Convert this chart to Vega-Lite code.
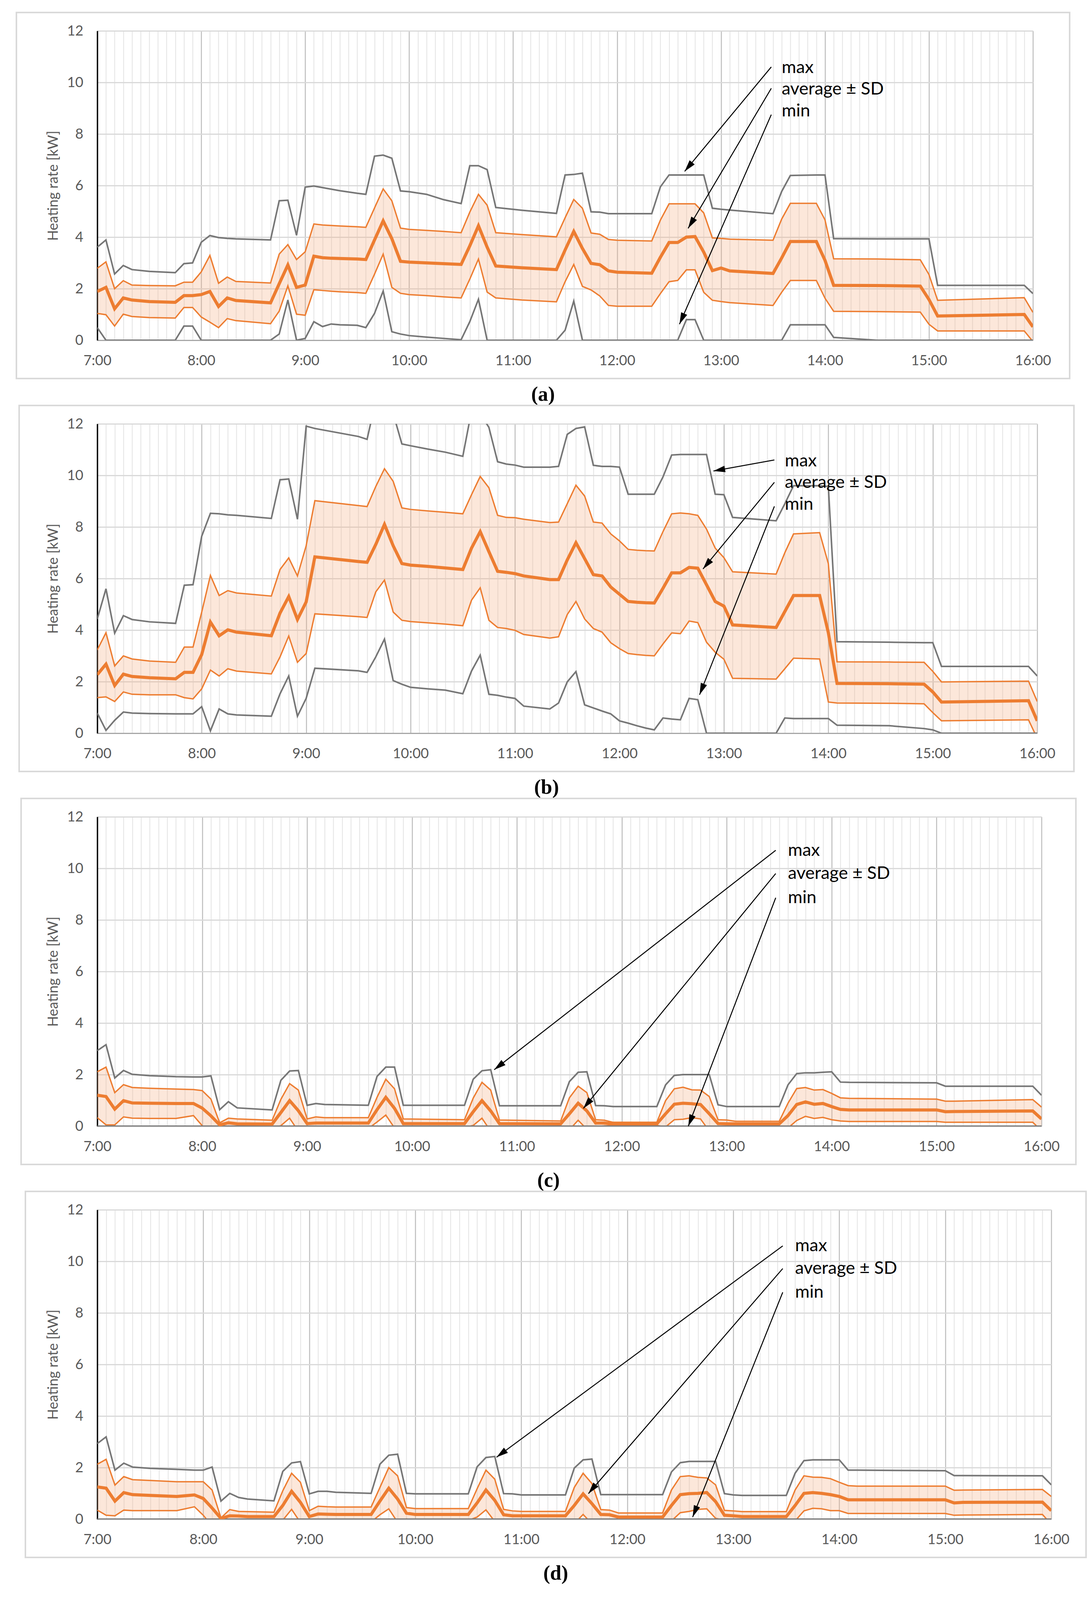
{
  "$schema": "https://vega.github.io/schema/vega-lite/v6.json",
  "background": "white",
  "padding": {"left": 40, "top": 30, "right": 10, "bottom": 12},
  "spacing": 0,
  "config": {
    "view": {"stroke": null},
    "font": "Lato",
    "axis": {"labelFont": "Lato", "labelFontSize": 36, "labelColor": "#595959", "titleFont": "Lato", "titleFontSize": 36, "titleColor": "#595959", "titleFontWeight": "normal", "ticks": false}
  },
  "vconcat": [
    {
      "width": 2395, "height": 792,
      "title": {"text": "(a)", "orient": "bottom", "frame": "bounds", "anchor": "middle", "offset": 14, "font": "Liberation Serif", "fontSize": 52, "fontWeight": "bold", "color": "#000000"},
      "data": {"values": [
        {"m":420,"mx":3.61,"av":1.89,"up":2.79,"lo":1.04,"mn":0.49},
        {"m":425,"mx":3.89,"av":2.05,"up":3.04,"lo":0.99,"mn":0},
        {"m":430,"mx":2.57,"av":1.22,"up":2.0,"lo":0.55,"mn":0},
        {"m":435,"mx":2.9,"av":1.64,"up":2.31,"lo":1.01,"mn":0},
        {"m":440,"mx":2.74,"av":1.56,"up":2.14,"lo":0.92,"mn":0},
        {"m":450,"mx":2.67,"av":1.5,"up":2.12,"lo":0.88,"mn":0},
        {"m":465,"mx":2.62,"av":1.47,"up":2.11,"lo":0.86,"mn":0},
        {"m":470,"mx":2.97,"av":1.73,"up":2.25,"lo":1.27,"mn":0.55},
        {"m":475,"mx":3.0,"av":1.73,"up":2.25,"lo":1.27,"mn":0.55},
        {"m":480,"mx":3.8,"av":1.77,"up":2.65,"lo":0.9,"mn":0},
        {"m":485,"mx":4.06,"av":1.89,"up":3.29,"lo":0.7,"mn":0},
        {"m":490,"mx":3.98,"av":1.31,"up":2.21,"lo":0.49,"mn":0},
        {"m":495,"mx":3.95,"av":1.64,"up":2.45,"lo":0.84,"mn":0},
        {"m":500,"mx":3.93,"av":1.54,"up":2.28,"lo":0.76,"mn":0},
        {"m":520,"mx":3.89,"av":1.45,"up":2.22,"lo":0.64,"mn":0},
        {"m":525,"mx":5.41,"av":2.19,"up":3.34,"lo":1.13,"mn":0.24},
        {"m":530,"mx":5.43,"av":2.92,"up":3.71,"lo":2.11,"mn":1.56},
        {"m":535,"mx":4.07,"av":2.05,"up":3.13,"lo":1.01,"mn":0},
        {"m":540,"mx":5.94,"av":2.14,"up":3.43,"lo":0.97,"mn":0.07},
        {"m":545,"mx":5.98,"av":3.26,"up":4.51,"lo":1.96,"mn":0.72},
        {"m":550,"mx":5.92,"av":3.2,"up":4.47,"lo":1.93,"mn":0.53},
        {"m":555,"mx":5.86,"av":3.18,"up":4.45,"lo":1.9,"mn":0.63},
        {"m":560,"mx":5.8,"av":3.17,"up":4.43,"lo":1.88,"mn":0.6},
        {"m":570,"mx":5.7,"av":3.15,"up":4.4,"lo":1.85,"mn":0.58},
        {"m":575,"mx":5.66,"av":3.13,"up":4.38,"lo":1.82,"mn":0.49},
        {"m":580,"mx":7.14,"av":3.89,"up":5.13,"lo":2.56,"mn":1.04},
        {"m":585,"mx":7.18,"av":4.63,"up":5.87,"lo":3.34,"mn":1.91},
        {"m":590,"mx":7.06,"av":3.94,"up":5.41,"lo":2.05,"mn":0.33},
        {"m":595,"mx":5.79,"av":3.06,"up":4.35,"lo":1.82,"mn":0.24},
        {"m":600,"mx":5.76,"av":3.03,"up":4.3,"lo":1.77,"mn":0.18},
        {"m":610,"mx":5.66,"av":3.0,"up":4.26,"lo":1.73,"mn":0.12},
        {"m":620,"mx":5.45,"av":2.97,"up":4.22,"lo":1.68,"mn":0.07},
        {"m":630,"mx":5.3,"av":2.94,"up":4.17,"lo":1.64,"mn":0.02},
        {"m":635,"mx":6.77,"av":3.66,"up":4.97,"lo":2.37,"mn":0.72},
        {"m":640,"mx":6.77,"av":4.44,"up":5.66,"lo":3.15,"mn":1.59},
        {"m":645,"mx":6.62,"av":3.61,"up":5.24,"lo":1.87,"mn":0},
        {"m":650,"mx":5.15,"av":2.88,"up":4.17,"lo":1.64,"mn":0},
        {"m":665,"mx":5.04,"av":2.81,"up":4.1,"lo":1.56,"mn":0},
        {"m":685,"mx":4.92,"av":2.74,"up":4.01,"lo":1.49,"mn":0},
        {"m":690,"mx":6.41,"av":3.5,"up":4.75,"lo":2.27,"mn":0.39},
        {"m":695,"mx":6.43,"av":4.22,"up":5.46,"lo":2.94,"mn":1.52},
        {"m":700,"mx":6.48,"av":3.56,"up":5.12,"lo":2.09,"mn":0},
        {"m":705,"mx":4.98,"av":2.98,"up":4.16,"lo":1.95,"mn":0},
        {"m":710,"mx":4.97,"av":2.93,"up":4.11,"lo":1.72,"mn":0},
        {"m":715,"mx":4.91,"av":2.69,"up":3.91,"lo":1.35,"mn":0},
        {"m":720,"mx":4.91,"av":2.64,"up":3.88,"lo":1.32,"mn":0},
        {"m":740,"mx":4.91,"av":2.6,"up":3.85,"lo":1.32,"mn":0},
        {"m":745,"mx":5.95,"av":3.22,"up":4.66,"lo":1.81,"mn":0},
        {"m":750,"mx":6.41,"av":3.79,"up":5.29,"lo":2.27,"mn":0},
        {"m":755,"mx":6.41,"av":3.79,"up":5.29,"lo":2.32,"mn":0},
        {"m":760,"mx":6.41,"av":4.0,"up":5.29,"lo":2.73,"mn":0.8},
        {"m":765,"mx":6.41,"av":4.02,"up":5.29,"lo":2.73,"mn":0.8},
        {"m":770,"mx":6.41,"av":3.42,"up":4.94,"lo":1.86,"mn":0},
        {"m":775,"mx":5.12,"av":2.7,"up":3.97,"lo":1.55,"mn":0},
        {"m":780,"mx":5.08,"av":2.8,"up":3.95,"lo":1.5,"mn":0},
        {"m":785,"mx":5.05,"av":2.69,"up":3.92,"lo":1.46,"mn":0},
        {"m":810,"mx":4.91,"av":2.59,"up":3.88,"lo":1.35,"mn":0},
        {"m":815,"mx":5.77,"av":3.19,"up":4.7,"lo":1.86,"mn":0},
        {"m":820,"mx":6.39,"av":3.83,"up":5.31,"lo":2.32,"mn":0.6},
        {"m":835,"mx":6.41,"av":3.83,"up":5.31,"lo":2.32,"mn":0.6},
        {"m":840,"mx":6.41,"av":3.1,"up":4.67,"lo":1.63,"mn":0.6},
        {"m":845,"mx":3.94,"av":2.13,"up":3.16,"lo":1.12,"mn":0.11},
        {"m":870,"mx":3.93,"av":2.12,"up":3.15,"lo":1.11,"mn":0},
        {"m":895,"mx":3.93,"av":2.1,"up":3.12,"lo":1.09,"mn":0},
        {"m":900,"mx":3.93,"av":1.58,"up":2.55,"lo":0.62,"mn":0},
        {"m":905,"mx":2.13,"av":0.94,"up":1.55,"lo":0.36,"mn":0},
        {"m":955,"mx":2.13,"av":1.0,"up":1.65,"lo":0.36,"mn":0},
        {"m":960,"mx":1.81,"av":0.52,"up":1.08,"lo":-0.05,"mn":0}
      ]},
      "resolve": {"axis": {"x": "independent"}},
      "layer": [
        {"mark": {"type": "rect", "filled": false, "color": "#d9d9d9", "strokeWidth": 3},
         "encoding": {
           "x": {"datum": 373.3, "type": "quantitative", "axis": null},
           "x2": {"datum": 981.2},
           "y": {"datum": 12.712, "type": "quantitative"},
           "y2": {"datum": -1.485}}},
        {"mark": {"type": "area", "color": "#f4b183", "opacity": 0.3, "clip": true},
         "encoding": {
           "x": {"field": "m", "type": "quantitative", "scale": {"domain": [420, 960], "nice": false, "zero": false},
                 "axis": {"orient": "bottom", "tickCount": 108, "grid": true, "gridColor": "#e3e3e3", "gridWidth": 2, "labels": false, "domain": false, "title": null}},
           "y": {"field": "lo", "type": "quantitative", "scale": {"domain": [0, 12], "nice": false, "zero": false}},
           "y2": {"field": "up"}}},
        {"mark": {"type": "line", "color": "#ed7d31", "strokeWidth": 3.5, "clip": true},
         "encoding": {"x": {"field": "m", "type": "quantitative", "axis": null}, "y": {"field": "up", "type": "quantitative"}}},
        {"mark": {"type": "line", "color": "#ed7d31", "strokeWidth": 3.5, "clip": true},
         "encoding": {"x": {"field": "m", "type": "quantitative", "axis": null}, "y": {"field": "lo", "type": "quantitative"}}},
        {"mark": {"type": "line", "color": "#767676", "strokeWidth": 4, "clip": true},
         "encoding": {"x": {"field": "m", "type": "quantitative", "axis": null}, "y": {"field": "mx", "type": "quantitative"}}},
        {"mark": {"type": "line", "color": "#767676", "strokeWidth": 4, "clip": true},
         "encoding": {"x": {"field": "m", "type": "quantitative", "axis": null}, "y": {"field": "mn", "type": "quantitative"}}},
        {"mark": {"type": "line", "color": "#ed7d31", "strokeWidth": 8, "clip": true},
         "encoding": {
           "x": {"field": "m", "type": "quantitative",
                 "axis": {"orient": "bottom", "values": [420, 480, 540, 600, 660, 720, 780, 840, 900, 960], "labelExpr": "floor(datum.value / 60) + ':00'", "grid": true, "gridColor": "#bfbfbf", "gridWidth": 2.5, "domainColor": "#a6a6a6", "domainWidth": 3, "labelPadding": 35, "labelFlush": false, "labelOverlap": false, "title": null}},
           "y": {"field": "av", "type": "quantitative", "scale": {"domain": [0, 12], "nice": false, "zero": false},
                 "axis": {"values": [0, 2, 4, 6, 8, 10, 12], "format": "d", "grid": true, "gridColor": "#d9d9d9", "gridWidth": 3, "domainColor": "#000000", "domainWidth": 3.5, "labelPadding": 36, "title": "Heating rate [kW]", "titlePadding": 16}}}},
        {"data": {"values": [
           {"m": 815, "v": 10.57, "label": "max"},
           {"m": 815, "v": 9.74, "label": "average ± SD"},
           {"m": 815, "v": 8.89, "label": "min"}]},
         "mark": {"type": "text", "align": "left", "baseline": "middle", "font": "Lato", "fontSize": 45, "color": "#000000"},
         "encoding": {"x": {"field": "m", "type": "quantitative", "axis": null}, "y": {"field": "v", "type": "quantitative"}, "text": {"field": "label"}}},
        {"data": {"values": [
           {"m0": 809, "v0": 10.6, "m1": 759, "v1": 6.55},
           {"m0": 809, "v0": 9.77, "m1": 761, "v1": 4.34},
           {"m0": 809, "v0": 8.75, "m1": 756, "v1": 0.62}]},
         "mark": {"type": "rule", "color": "#000000", "strokeWidth": 2.5},
         "encoding": {"x": {"field": "m0", "type": "quantitative", "axis": null}, "y": {"field": "v0", "type": "quantitative"}, "x2": {"field": "m1"}, "y2": {"field": "v1"}}},
        {"data": {"values": [{"m": 759, "v": 6.55}]},
         "mark": {"type": "point", "shape": "M0,0L-0.45,1.6L0.45,1.6Z", "filled": true, "color": "#000000", "opacity": 1, "size": 1400, "angle": 219.8},
         "encoding": {"x": {"field": "m", "type": "quantitative", "axis": null}, "y": {"field": "v", "type": "quantitative"}}},
        {"data": {"values": [{"m": 761, "v": 4.34}]},
         "mark": {"type": "point", "shape": "M0,0L-0.45,1.6L0.45,1.6Z", "filled": true, "color": "#000000", "opacity": 1, "size": 1400, "angle": 210.9},
         "encoding": {"x": {"field": "m", "type": "quantitative", "axis": null}, "y": {"field": "v", "type": "quantitative"}}},
        {"data": {"values": [{"m": 756, "v": 0.62}]},
         "mark": {"type": "point", "shape": "M0,0L-0.45,1.6L0.45,1.6Z", "filled": true, "color": "#000000", "opacity": 1, "size": 1400, "angle": 203.7},
         "encoding": {"x": {"field": "m", "type": "quantitative", "axis": null}, "y": {"field": "v", "type": "quantitative"}}}
      ]
    },
    {
      "width": 2406, "height": 792,
      "title": {"text": "(b)", "orient": "bottom", "frame": "bounds", "anchor": "middle", "offset": 14, "font": "Liberation Serif", "fontSize": 52, "fontWeight": "bold", "color": "#000000"},
      "data": {"values": [
        {"m":420,"mx":4.43,"av":2.27,"up":3.23,"lo":1.38,"mn":0.78},
        {"m":425,"mx":5.6,"av":2.68,"up":3.9,"lo":1.41,"mn":0.11},
        {"m":430,"mx":3.88,"av":1.85,"up":2.61,"lo":1.23,"mn":0.5},
        {"m":435,"mx":4.56,"av":2.29,"up":3.0,"lo":1.6,"mn":0.82},
        {"m":440,"mx":4.41,"av":2.2,"up":2.88,"lo":1.51,"mn":0.78},
        {"m":450,"mx":4.32,"av":2.15,"up":2.8,"lo":1.49,"mn":0.76},
        {"m":465,"mx":4.26,"av":2.11,"up":2.75,"lo":1.49,"mn":0.75},
        {"m":470,"mx":5.74,"av":2.36,"up":3.34,"lo":1.38,"mn":0.75},
        {"m":475,"mx":5.76,"av":2.36,"up":3.34,"lo":1.33,"mn":0.75},
        {"m":480,"mx":7.64,"av":3.05,"up":4.7,"lo":1.72,"mn":1.03},
        {"m":485,"mx":8.53,"av":4.31,"up":6.12,"lo":2.45,"mn":0.09},
        {"m":490,"mx":8.51,"av":3.78,"up":5.34,"lo":2.22,"mn":0.94},
        {"m":495,"mx":8.47,"av":4.01,"up":5.53,"lo":2.5,"mn":0.75},
        {"m":500,"mx":8.45,"av":3.92,"up":5.44,"lo":2.41,"mn":0.71},
        {"m":520,"mx":8.33,"av":3.78,"up":5.32,"lo":2.3,"mn":0.66},
        {"m":525,"mx":9.83,"av":4.66,"up":6.35,"lo":2.96,"mn":1.53},
        {"m":530,"mx":9.86,"av":5.3,"up":6.8,"lo":3.77,"mn":2.22},
        {"m":535,"mx":8.3,"av":4.41,"up":6.1,"lo":2.75,"mn":0.66},
        {"m":540,"mx":11.91,"av":5.09,"up":7.27,"lo":3.09,"mn":1.35},
        {"m":545,"mx":11.82,"av":6.84,"up":9.02,"lo":4.63,"mn":2.52},
        {"m":570,"mx":11.51,"av":6.66,"up":8.83,"lo":4.52,"mn":2.42},
        {"m":575,"mx":11.4,"av":6.63,"up":8.79,"lo":4.49,"mn":2.36},
        {"m":580,"mx":12.9,"av":7.32,"up":9.57,"lo":5.48,"mn":2.96},
        {"m":585,"mx":12.9,"av":8.1,"up":10.26,"lo":5.94,"mn":3.65},
        {"m":590,"mx":12.4,"av":7.27,"up":9.77,"lo":4.7,"mn":2.04},
        {"m":595,"mx":11.22,"av":6.58,"up":8.74,"lo":4.38,"mn":1.9},
        {"m":600,"mx":11.15,"av":6.52,"up":8.68,"lo":4.33,"mn":1.78},
        {"m":610,"mx":11.02,"av":6.47,"up":8.62,"lo":4.28,"mn":1.72},
        {"m":620,"mx":10.9,"av":6.41,"up":8.57,"lo":4.23,"mn":1.67},
        {"m":630,"mx":10.74,"av":6.35,"up":8.51,"lo":4.17,"mn":1.53},
        {"m":635,"mx":12.5,"av":7.18,"up":9.25,"lo":5.16,"mn":2.41},
        {"m":640,"mx":12.4,"av":7.82,"up":9.96,"lo":5.64,"mn":3.03},
        {"m":645,"mx":11.86,"av":7.04,"up":9.52,"lo":4.38,"mn":1.51},
        {"m":650,"mx":10.53,"av":6.28,"up":8.45,"lo":4.1,"mn":1.47},
        {"m":655,"mx":10.44,"av":6.24,"up":8.37,"lo":4.06,"mn":1.4},
        {"m":660,"mx":10.4,"av":6.19,"up":8.36,"lo":3.99,"mn":1.35},
        {"m":665,"mx":10.32,"av":6.1,"up":8.3,"lo":3.83,"mn":1.05},
        {"m":680,"mx":10.32,"av":5.96,"up":8.17,"lo":3.69,"mn":0.94},
        {"m":685,"mx":10.35,"av":5.96,"up":8.19,"lo":3.74,"mn":1.17},
        {"m":690,"mx":11.59,"av":6.72,"up":8.9,"lo":4.6,"mn":1.99},
        {"m":695,"mx":11.82,"av":7.39,"up":9.62,"lo":5.11,"mn":2.39},
        {"m":700,"mx":11.88,"av":6.77,"up":9.2,"lo":4.43,"mn":1.1},
        {"m":705,"mx":10.39,"av":6.15,"up":8.19,"lo":4.06,"mn":0.98},
        {"m":710,"mx":10.35,"av":6.1,"up":8.15,"lo":3.92,"mn":0.86},
        {"m":715,"mx":10.35,"av":5.67,"up":7.73,"lo":3.51,"mn":0.75},
        {"m":720,"mx":10.32,"av":5.39,"up":7.46,"lo":3.28,"mn":0.48},
        {"m":725,"mx":9.27,"av":5.11,"up":7.13,"lo":3.09,"mn":0.39},
        {"m":730,"mx":9.27,"av":5.08,"up":7.1,"lo":3.05,"mn":0.29},
        {"m":735,"mx":9.27,"av":5.06,"up":7.08,"lo":3.02,"mn":0.2},
        {"m":740,"mx":9.27,"av":5.05,"up":7.07,"lo":3.0,"mn":0.13},
        {"m":745,"mx":9.94,"av":5.62,"up":7.82,"lo":3.46,"mn":0.59},
        {"m":750,"mx":10.79,"av":6.22,"up":8.51,"lo":3.89,"mn":0.55},
        {"m":755,"mx":10.81,"av":6.22,"up":8.54,"lo":3.86,"mn":0.52},
        {"m":760,"mx":10.81,"av":6.43,"up":8.51,"lo":4.35,"mn":1.35},
        {"m":765,"mx":10.81,"av":6.4,"up":8.45,"lo":4.29,"mn":1.3},
        {"m":770,"mx":10.81,"av":5.76,"up":7.92,"lo":3.53,"mn":0},
        {"m":775,"mx":9.27,"av":5.11,"up":7.18,"lo":3.14,"mn":0},
        {"m":780,"mx":9.25,"av":4.93,"up":6.81,"lo":2.87,"mn":0},
        {"m":785,"mx":8.37,"av":4.2,"up":6.26,"lo":2.13,"mn":0},
        {"m":810,"mx":8.24,"av":4.1,"up":6.17,"lo":2.1,"mn":0},
        {"m":815,"mx":8.9,"av":4.72,"up":7.0,"lo":2.5,"mn":0.59},
        {"m":820,"mx":9.6,"av":5.34,"up":7.73,"lo":2.91,"mn":0.57},
        {"m":835,"mx":9.6,"av":5.34,"up":7.78,"lo":2.88,"mn":0.57},
        {"m":840,"mx":9.57,"av":3.9,"up":6.58,"lo":1.21,"mn":0.57},
        {"m":845,"mx":3.55,"av":1.93,"up":2.77,"lo":1.17,"mn":0.31},
        {"m":875,"mx":3.53,"av":1.92,"up":2.76,"lo":1.16,"mn":0.29},
        {"m":895,"mx":3.51,"av":1.9,"up":2.75,"lo":1.14,"mn":0.18},
        {"m":900,"mx":3.51,"av":1.6,"up":2.4,"lo":0.8,"mn":0.13},
        {"m":905,"mx":2.59,"av":1.21,"up":1.99,"lo":0.48,"mn":0},
        {"m":955,"mx":2.59,"av":1.26,"up":2.02,"lo":0.52,"mn":0},
        {"m":960,"mx":2.22,"av":0.48,"up":1.23,"lo":-0.2,"mn":0}
      ]},
      "resolve": {"axis": {"x": "independent"}},
      "layer": [
        {"mark": {"type": "rect", "filled": false, "color": "#d9d9d9", "strokeWidth": 3},
         "encoding": {
           "x": {"datum": 375.1, "type": "quantitative", "axis": null},
           "x2": {"datum": 981.1},
           "y": {"datum": 12.712, "type": "quantitative"},
           "y2": {"datum": -1.485}}},
        {"mark": {"type": "area", "color": "#f4b183", "opacity": 0.3, "clip": true},
         "encoding": {
           "x": {"field": "m", "type": "quantitative", "scale": {"domain": [420, 960], "nice": false, "zero": false},
                 "axis": {"orient": "bottom", "tickCount": 108, "grid": true, "gridColor": "#e3e3e3", "gridWidth": 2, "labels": false, "domain": false, "title": null}},
           "y": {"field": "lo", "type": "quantitative", "scale": {"domain": [0, 12], "nice": false, "zero": false}},
           "y2": {"field": "up"}}},
        {"mark": {"type": "line", "color": "#ed7d31", "strokeWidth": 3.5, "clip": true},
         "encoding": {"x": {"field": "m", "type": "quantitative", "axis": null}, "y": {"field": "up", "type": "quantitative"}}},
        {"mark": {"type": "line", "color": "#ed7d31", "strokeWidth": 3.5, "clip": true},
         "encoding": {"x": {"field": "m", "type": "quantitative", "axis": null}, "y": {"field": "lo", "type": "quantitative"}}},
        {"mark": {"type": "line", "color": "#767676", "strokeWidth": 4, "clip": true},
         "encoding": {"x": {"field": "m", "type": "quantitative", "axis": null}, "y": {"field": "mx", "type": "quantitative"}}},
        {"mark": {"type": "line", "color": "#767676", "strokeWidth": 4, "clip": true},
         "encoding": {"x": {"field": "m", "type": "quantitative", "axis": null}, "y": {"field": "mn", "type": "quantitative"}}},
        {"mark": {"type": "line", "color": "#ed7d31", "strokeWidth": 8, "clip": true},
         "encoding": {
           "x": {"field": "m", "type": "quantitative",
                 "axis": {"orient": "bottom", "values": [420, 480, 540, 600, 660, 720, 780, 840, 900, 960], "labelExpr": "floor(datum.value / 60) + ':00'", "grid": true, "gridColor": "#bfbfbf", "gridWidth": 2.5, "domainColor": "#a6a6a6", "domainWidth": 3, "labelPadding": 35, "labelFlush": false, "labelOverlap": false, "title": null}},
           "y": {"field": "av", "type": "quantitative", "scale": {"domain": [0, 12], "nice": false, "zero": false},
                 "axis": {"values": [0, 2, 4, 6, 8, 10, 12], "format": "d", "grid": true, "gridColor": "#d9d9d9", "gridWidth": 3, "domainColor": "#000000", "domainWidth": 3.5, "labelPadding": 36, "title": "Heating rate [kW]", "titlePadding": 16}}}},
        {"data": {"values": [
           {"m": 815, "v": 10.56, "label": "max"},
           {"m": 815, "v": 9.73, "label": "average ± SD"},
           {"m": 815, "v": 8.88, "label": "min"}]},
         "mark": {"type": "text", "align": "left", "baseline": "middle", "font": "Lato", "fontSize": 45, "color": "#000000"},
         "encoding": {"x": {"field": "m", "type": "quantitative", "axis": null}, "y": {"field": "v", "type": "quantitative"}, "text": {"field": "label"}}},
        {"data": {"values": [
           {"m0": 809, "v0": 10.6, "m1": 774, "v1": 10.17},
           {"m0": 809, "v0": 9.73, "m1": 768, "v1": 6.37},
           {"m0": 809, "v0": 8.8, "m1": 766, "v1": 1.49}]},
         "mark": {"type": "rule", "color": "#000000", "strokeWidth": 2.5},
         "encoding": {"x": {"field": "m0", "type": "quantitative", "axis": null}, "y": {"field": "v0", "type": "quantitative"}, "x2": {"field": "m1"}, "y2": {"field": "v1"}}},
        {"data": {"values": [{"m": 774, "v": 10.17}]},
         "mark": {"type": "point", "shape": "M0,0L-0.45,1.6L0.45,1.6Z", "filled": true, "color": "#000000", "opacity": 1, "size": 1400, "angle": 259.8},
         "encoding": {"x": {"field": "m", "type": "quantitative", "axis": null}, "y": {"field": "v", "type": "quantitative"}}},
        {"data": {"values": [{"m": 768, "v": 6.37}]},
         "mark": {"type": "point", "shape": "M0,0L-0.45,1.6L0.45,1.6Z", "filled": true, "color": "#000000", "opacity": 1, "size": 1400, "angle": 219.7},
         "encoding": {"x": {"field": "m", "type": "quantitative", "axis": null}, "y": {"field": "v", "type": "quantitative"}}},
        {"data": {"values": [{"m": 766, "v": 1.49}]},
         "mark": {"type": "point", "shape": "M0,0L-0.45,1.6L0.45,1.6Z", "filled": true, "color": "#000000", "opacity": 1, "size": 1400, "angle": 201.8},
         "encoding": {"x": {"field": "m", "type": "quantitative", "axis": null}, "y": {"field": "v", "type": "quantitative"}}}
      ]
    },
    {
      "width": 2417, "height": 792,
      "title": {"text": "(c)", "orient": "bottom", "frame": "bounds", "anchor": "middle", "offset": 14, "font": "Liberation Serif", "fontSize": 52, "fontWeight": "bold", "color": "#000000"},
      "data": {"values": [
        {"m":420,"mx":2.93,"av":1.2,"up":2.11,"lo":0.33,"mn":0},
        {"m":425,"mx":3.16,"av":1.15,"up":2.29,"lo":0.05,"mn":0},
        {"m":430,"mx":1.87,"av":0.66,"up":1.3,"lo":0.05,"mn":0},
        {"m":435,"mx":2.16,"av":0.99,"up":1.61,"lo":0.36,"mn":0},
        {"m":440,"mx":2.01,"av":0.9,"up":1.5,"lo":0.31,"mn":0},
        {"m":450,"mx":1.96,"av":0.89,"up":1.47,"lo":0.3,"mn":0},
        {"m":465,"mx":1.92,"av":0.88,"up":1.44,"lo":0.3,"mn":0},
        {"m":475,"mx":1.91,"av":0.88,"up":1.42,"lo":0.41,"mn":0},
        {"m":480,"mx":1.91,"av":0.7,"up":1.38,"lo":0.02,"mn":0},
        {"m":485,"mx":1.95,"av":0.4,"up":1.05,"lo":-0.25,"mn":0},
        {"m":490,"mx":0.64,"av":0.05,"up":0.13,"lo":-0.03,"mn":0},
        {"m":495,"mx":0.95,"av":0.13,"up":0.31,"lo":-0.05,"mn":0},
        {"m":500,"mx":0.71,"av":0.09,"up":0.28,"lo":-0.1,"mn":0},
        {"m":520,"mx":0.63,"av":0.08,"up":0.23,"lo":-0.07,"mn":0},
        {"m":525,"mx":1.78,"av":0.53,"up":1.04,"lo":0.02,"mn":0},
        {"m":530,"mx":2.14,"av":0.99,"up":1.65,"lo":0.31,"mn":0},
        {"m":535,"mx":2.16,"av":0.6,"up":1.4,"lo":-0.2,"mn":0},
        {"m":540,"mx":0.81,"av":0.1,"up":0.28,"lo":-0.08,"mn":0},
        {"m":545,"mx":0.88,"av":0.12,"up":0.36,"lo":-0.12,"mn":0},
        {"m":550,"mx":0.84,"av":0.12,"up":0.33,"lo":-0.09,"mn":0},
        {"m":575,"mx":0.81,"av":0.12,"up":0.33,"lo":-0.09,"mn":0},
        {"m":580,"mx":1.93,"av":0.64,"up":1.12,"lo":0.16,"mn":0},
        {"m":585,"mx":2.29,"av":1.12,"up":1.82,"lo":0.43,"mn":0},
        {"m":590,"mx":2.29,"av":0.69,"up":1.45,"lo":-0.07,"mn":0},
        {"m":595,"mx":0.81,"av":0.1,"up":0.28,"lo":-0.08,"mn":0},
        {"m":630,"mx":0.81,"av":0.1,"up":0.25,"lo":-0.05,"mn":0},
        {"m":635,"mx":1.82,"av":0.56,"up":1.09,"lo":0.03,"mn":0},
        {"m":640,"mx":2.15,"av":0.99,"up":1.7,"lo":0.31,"mn":0},
        {"m":645,"mx":2.19,"av":0.59,"up":1.4,"lo":-0.2,"mn":0},
        {"m":650,"mx":0.79,"av":0.1,"up":0.24,"lo":-0.04,"mn":0},
        {"m":685,"mx":0.79,"av":0.09,"up":0.2,"lo":-0.02,"mn":0},
        {"m":690,"mx":1.73,"av":0.48,"up":1.1,"lo":-0.14,"mn":0},
        {"m":695,"mx":2.09,"av":0.89,"up":1.55,"lo":0.23,"mn":0},
        {"m":700,"mx":2.11,"av":0.59,"up":1.3,"lo":-0.12,"mn":0},
        {"m":705,"mx":0.8,"av":0.12,"up":0.25,"lo":-0.01,"mn":0},
        {"m":710,"mx":0.79,"av":0.12,"up":0.23,"lo":0.01,"mn":0},
        {"m":715,"mx":0.76,"av":0.09,"up":0.15,"lo":0.03,"mn":0},
        {"m":740,"mx":0.76,"av":0.09,"up":0.15,"lo":0.03,"mn":0},
        {"m":745,"mx":1.6,"av":0.48,"up":0.99,"lo":-0.03,"mn":0},
        {"m":750,"mx":1.97,"av":0.85,"up":1.45,"lo":0.25,"mn":0},
        {"m":755,"mx":2.0,"av":0.89,"up":1.51,"lo":0.27,"mn":0},
        {"m":760,"mx":2.0,"av":0.87,"up":1.41,"lo":0.33,"mn":0},
        {"m":765,"mx":2.0,"av":0.84,"up":1.4,"lo":0.28,"mn":0},
        {"m":770,"mx":2.0,"av":0.48,"up":1.15,"lo":-0.19,"mn":0},
        {"m":775,"mx":0.83,"av":0.1,"up":0.25,"lo":-0.05,"mn":0},
        {"m":780,"mx":0.76,"av":0.09,"up":0.24,"lo":-0.06,"mn":0},
        {"m":785,"mx":0.76,"av":0.09,"up":0.19,"lo":-0.01,"mn":0},
        {"m":810,"mx":0.76,"av":0.09,"up":0.19,"lo":-0.01,"mn":0},
        {"m":815,"mx":1.6,"av":0.41,"up":0.89,"lo":-0.07,"mn":0},
        {"m":820,"mx":2.04,"av":0.84,"up":1.46,"lo":0.22,"mn":0},
        {"m":825,"mx":2.07,"av":0.94,"up":1.5,"lo":0.38,"mn":0},
        {"m":830,"mx":2.07,"av":0.85,"up":1.4,"lo":0.3,"mn":0},
        {"m":835,"mx":2.09,"av":0.88,"up":1.42,"lo":0.34,"mn":0},
        {"m":840,"mx":2.11,"av":0.76,"up":1.27,"lo":0.25,"mn":0},
        {"m":845,"mx":1.71,"av":0.65,"up":1.1,"lo":0.2,"mn":0},
        {"m":850,"mx":1.7,"av":0.63,"up":1.08,"lo":0.18,"mn":0},
        {"m":900,"mx":1.68,"av":0.63,"up":1.05,"lo":0.18,"mn":0},
        {"m":905,"mx":1.55,"av":0.56,"up":0.97,"lo":0.15,"mn":0},
        {"m":910,"mx":1.55,"av":0.57,"up":0.97,"lo":0.15,"mn":0},
        {"m":955,"mx":1.55,"av":0.59,"up":1.03,"lo":0.15,"mn":0},
        {"m":960,"mx":1.2,"av":0.28,"up":0.74,"lo":-0.18,"mn":0}
      ]},
      "resolve": {"axis": {"x": "independent"}},
      "layer": [
        {"mark": {"type": "rect", "filled": false, "color": "#d9d9d9", "strokeWidth": 3},
         "encoding": {
           "x": {"datum": 376.4, "type": "quantitative", "axis": null},
           "x2": {"datum": 979.7},
           "y": {"datum": 12.712, "type": "quantitative"},
           "y2": {"datum": -1.485}}},
        {"mark": {"type": "area", "color": "#f4b183", "opacity": 0.3, "clip": true},
         "encoding": {
           "x": {"field": "m", "type": "quantitative", "scale": {"domain": [420, 960], "nice": false, "zero": false},
                 "axis": {"orient": "bottom", "tickCount": 108, "grid": true, "gridColor": "#e3e3e3", "gridWidth": 2, "labels": false, "domain": false, "title": null}},
           "y": {"field": "lo", "type": "quantitative", "scale": {"domain": [0, 12], "nice": false, "zero": false}},
           "y2": {"field": "up"}}},
        {"mark": {"type": "line", "color": "#ed7d31", "strokeWidth": 3.5, "clip": true},
         "encoding": {"x": {"field": "m", "type": "quantitative", "axis": null}, "y": {"field": "up", "type": "quantitative"}}},
        {"mark": {"type": "line", "color": "#ed7d31", "strokeWidth": 3.5, "clip": true},
         "encoding": {"x": {"field": "m", "type": "quantitative", "axis": null}, "y": {"field": "lo", "type": "quantitative"}}},
        {"mark": {"type": "line", "color": "#767676", "strokeWidth": 4, "clip": true},
         "encoding": {"x": {"field": "m", "type": "quantitative", "axis": null}, "y": {"field": "mx", "type": "quantitative"}}},
        {"mark": {"type": "line", "color": "#767676", "strokeWidth": 4, "clip": true},
         "encoding": {"x": {"field": "m", "type": "quantitative", "axis": null}, "y": {"field": "mn", "type": "quantitative"}}},
        {"mark": {"type": "line", "color": "#ed7d31", "strokeWidth": 8, "clip": true},
         "encoding": {
           "x": {"field": "m", "type": "quantitative",
                 "axis": {"orient": "bottom", "values": [420, 480, 540, 600, 660, 720, 780, 840, 900, 960], "labelExpr": "floor(datum.value / 60) + ':00'", "grid": true, "gridColor": "#bfbfbf", "gridWidth": 2.5, "domainColor": "#a6a6a6", "domainWidth": 3, "labelPadding": 35, "labelFlush": false, "labelOverlap": false, "title": null}},
           "y": {"field": "av", "type": "quantitative", "scale": {"domain": [0, 12], "nice": false, "zero": false},
                 "axis": {"values": [0, 2, 4, 6, 8, 10, 12], "format": "d", "grid": true, "gridColor": "#d9d9d9", "gridWidth": 3, "domainColor": "#000000", "domainWidth": 3.5, "labelPadding": 36, "title": "Heating rate [kW]", "titlePadding": 16}}}},
        {"data": {"values": [
           {"m": 815, "v": 10.69, "label": "max"},
           {"m": 815, "v": 9.8, "label": "average ± SD"},
           {"m": 815, "v": 8.86, "label": "min"}]},
         "mark": {"type": "text", "align": "left", "baseline": "middle", "font": "Lato", "fontSize": 45, "color": "#000000"},
         "encoding": {"x": {"field": "m", "type": "quantitative", "axis": null}, "y": {"field": "v", "type": "quantitative"}, "text": {"field": "label"}}},
        {"data": {"values": [
           {"m0": 808, "v0": 10.7, "m1": 647, "v1": 2.19},
           {"m0": 808, "v0": 9.8, "m1": 698, "v1": 0.69},
           {"m0": 808, "v0": 8.86, "m1": 758, "v1": 0.0}]},
         "mark": {"type": "rule", "color": "#000000", "strokeWidth": 2.5},
         "encoding": {"x": {"field": "m0", "type": "quantitative", "axis": null}, "y": {"field": "v0", "type": "quantitative"}, "x2": {"field": "m1"}, "y2": {"field": "v1"}}},
        {"data": {"values": [{"m": 647, "v": 2.19}]},
         "mark": {"type": "point", "shape": "M0,0L-0.45,1.6L0.45,1.6Z", "filled": true, "color": "#000000", "opacity": 1, "size": 1400, "angle": 232.1},
         "encoding": {"x": {"field": "m", "type": "quantitative", "axis": null}, "y": {"field": "v", "type": "quantitative"}}},
        {"data": {"values": [{"m": 698, "v": 0.69}]},
         "mark": {"type": "point", "shape": "M0,0L-0.45,1.6L0.45,1.6Z", "filled": true, "color": "#000000", "opacity": 1, "size": 1400, "angle": 219.3},
         "encoding": {"x": {"field": "m", "type": "quantitative", "axis": null}, "y": {"field": "v", "type": "quantitative"}}},
        {"data": {"values": [{"m": 758, "v": 0.0}]},
         "mark": {"type": "point", "shape": "M0,0L-0.45,1.6L0.45,1.6Z", "filled": true, "color": "#000000", "opacity": 1, "size": 1400, "angle": 201.0},
         "encoding": {"x": {"field": "m", "type": "quantitative", "axis": null}, "y": {"field": "v", "type": "quantitative"}}}
      ]
    },
    {
      "width": 2442, "height": 792,
      "title": {"text": "(d)", "orient": "bottom", "frame": "bounds", "anchor": "middle", "offset": 14, "font": "Liberation Serif", "fontSize": 52, "fontWeight": "bold", "color": "#000000"},
      "data": {"values": [
        {"m":420,"mx":2.93,"av":1.25,"up":2.13,"lo":0.35,"mn":0},
        {"m":425,"mx":3.19,"av":1.2,"up":2.32,"lo":0.15,"mn":0},
        {"m":430,"mx":1.9,"av":0.7,"up":1.32,"lo":0.13,"mn":0},
        {"m":435,"mx":2.17,"av":1.03,"up":1.65,"lo":0.35,"mn":0},
        {"m":440,"mx":2.02,"av":0.95,"up":1.53,"lo":0.33,"mn":0},
        {"m":450,"mx":1.97,"av":0.92,"up":1.5,"lo":0.33,"mn":0},
        {"m":465,"mx":1.93,"av":0.88,"up":1.45,"lo":0.33,"mn":0},
        {"m":475,"mx":1.9,"av":0.94,"up":1.45,"lo":0.48,"mn":0},
        {"m":480,"mx":1.9,"av":0.8,"up":1.45,"lo":0.15,"mn":0},
        {"m":485,"mx":2.02,"av":0.43,"up":1.13,"lo":-0.27,"mn":0},
        {"m":490,"mx":0.7,"av":0.03,"up":0.05,"lo":0.0,"mn":0},
        {"m":495,"mx":1.0,"av":0.13,"up":0.37,"lo":-0.11,"mn":0},
        {"m":500,"mx":0.84,"av":0.12,"up":0.3,"lo":-0.06,"mn":0},
        {"m":505,"mx":0.78,"av":0.1,"up":0.29,"lo":-0.09,"mn":0},
        {"m":520,"mx":0.71,"av":0.1,"up":0.27,"lo":-0.07,"mn":0},
        {"m":525,"mx":1.85,"av":0.53,"up":1.1,"lo":-0.04,"mn":0},
        {"m":530,"mx":2.18,"av":1.08,"up":1.78,"lo":0.38,"mn":0},
        {"m":535,"mx":2.23,"av":0.65,"up":1.43,"lo":-0.13,"mn":0},
        {"m":540,"mx":0.98,"av":0.1,"up":0.33,"lo":-0.13,"mn":0},
        {"m":545,"mx":1.08,"av":0.2,"up":0.5,"lo":-0.1,"mn":0},
        {"m":550,"mx":1.08,"av":0.19,"up":0.48,"lo":-0.1,"mn":0},
        {"m":555,"mx":1.04,"av":0.18,"up":0.47,"lo":-0.11,"mn":0},
        {"m":575,"mx":1.0,"av":0.18,"up":0.47,"lo":-0.11,"mn":0},
        {"m":580,"mx":2.13,"av":0.7,"up":1.23,"lo":0.17,"mn":0},
        {"m":585,"mx":2.48,"av":1.2,"up":2.0,"lo":0.4,"mn":0},
        {"m":590,"mx":2.52,"av":0.78,"up":1.68,"lo":-0.12,"mn":0},
        {"m":595,"mx":1.0,"av":0.23,"up":0.45,"lo":0.01,"mn":0},
        {"m":600,"mx":0.98,"av":0.18,"up":0.41,"lo":-0.05,"mn":0},
        {"m":630,"mx":0.98,"av":0.18,"up":0.41,"lo":-0.05,"mn":0},
        {"m":635,"mx":2.03,"av":0.63,"up":1.18,"lo":0.08,"mn":0},
        {"m":640,"mx":2.39,"av":1.13,"up":1.9,"lo":0.36,"mn":0},
        {"m":645,"mx":2.43,"av":0.73,"up":1.55,"lo":-0.09,"mn":0},
        {"m":650,"mx":0.99,"av":0.17,"up":0.38,"lo":-0.04,"mn":0},
        {"m":655,"mx":0.98,"av":0.13,"up":0.32,"lo":-0.06,"mn":0},
        {"m":660,"mx":0.94,"av":0.13,"up":0.3,"lo":-0.04,"mn":0},
        {"m":685,"mx":0.94,"av":0.13,"up":0.3,"lo":-0.04,"mn":0},
        {"m":690,"mx":1.98,"av":0.53,"up":1.23,"lo":-0.17,"mn":0},
        {"m":695,"mx":2.3,"av":0.98,"up":1.78,"lo":0.18,"mn":0},
        {"m":700,"mx":2.33,"av":0.6,"up":1.38,"lo":-0.18,"mn":0},
        {"m":705,"mx":0.95,"av":0.18,"up":0.37,"lo":-0.01,"mn":0},
        {"m":710,"mx":0.95,"av":0.17,"up":0.35,"lo":-0.01,"mn":0},
        {"m":715,"mx":0.95,"av":0.08,"up":0.24,"lo":-0.08,"mn":0},
        {"m":740,"mx":0.95,"av":0.08,"up":0.24,"lo":-0.08,"mn":0},
        {"m":745,"mx":1.83,"av":0.53,"up":1.13,"lo":-0.07,"mn":0},
        {"m":750,"mx":2.19,"av":0.95,"up":1.65,"lo":0.25,"mn":0},
        {"m":755,"mx":2.24,"av":0.99,"up":1.68,"lo":0.3,"mn":0},
        {"m":760,"mx":2.24,"av":1.0,"up":1.62,"lo":0.38,"mn":0},
        {"m":765,"mx":2.24,"av":1.03,"up":1.6,"lo":0.4,"mn":0},
        {"m":770,"mx":2.24,"av":0.68,"up":1.33,"lo":0.03,"mn":0},
        {"m":775,"mx":0.99,"av":0.15,"up":0.34,"lo":-0.04,"mn":0},
        {"m":780,"mx":0.94,"av":0.13,"up":0.32,"lo":-0.06,"mn":0},
        {"m":785,"mx":0.92,"av":0.1,"up":0.29,"lo":-0.09,"mn":0},
        {"m":810,"mx":0.92,"av":0.1,"up":0.29,"lo":-0.09,"mn":0},
        {"m":815,"mx":1.78,"av":0.53,"up":1.13,"lo":-0.07,"mn":0},
        {"m":820,"mx":2.27,"av":1.0,"up":1.68,"lo":0.32,"mn":0},
        {"m":825,"mx":2.3,"av":1.03,"up":1.63,"lo":0.42,"mn":0},
        {"m":830,"mx":2.3,"av":1.0,"up":1.62,"lo":0.4,"mn":0},
        {"m":835,"mx":2.3,"av":0.95,"up":1.57,"lo":0.33,"mn":0},
        {"m":840,"mx":2.3,"av":0.88,"up":1.43,"lo":0.33,"mn":0},
        {"m":845,"mx":1.9,"av":0.75,"up":1.3,"lo":0.22,"mn":0},
        {"m":850,"mx":1.9,"av":0.75,"up":1.28,"lo":0.22,"mn":0},
        {"m":900,"mx":1.88,"av":0.75,"up":1.28,"lo":0.22,"mn":0},
        {"m":905,"mx":1.69,"av":0.63,"up":1.12,"lo":0.15,"mn":0},
        {"m":910,"mx":1.69,"av":0.65,"up":1.13,"lo":0.16,"mn":0},
        {"m":955,"mx":1.68,"av":0.66,"up":1.15,"lo":0.18,"mn":0},
        {"m":960,"mx":1.33,"av":0.33,"up":0.88,"lo":-0.2,"mn":0}
      ]},
      "resolve": {"axis": {"x": "independent"}},
      "layer": [
        {"mark": {"type": "rect", "filled": false, "color": "#d9d9d9", "strokeWidth": 3},
         "encoding": {
           "x": {"datum": 379.3, "type": "quantitative", "axis": null},
           "x2": {"datum": 979.7},
           "y": {"datum": 12.712, "type": "quantitative"},
           "y2": {"datum": -1.485}}},
        {"mark": {"type": "area", "color": "#f4b183", "opacity": 0.3, "clip": true},
         "encoding": {
           "x": {"field": "m", "type": "quantitative", "scale": {"domain": [420, 960], "nice": false, "zero": false},
                 "axis": {"orient": "bottom", "tickCount": 108, "grid": true, "gridColor": "#e3e3e3", "gridWidth": 2, "labels": false, "domain": false, "title": null}},
           "y": {"field": "lo", "type": "quantitative", "scale": {"domain": [0, 12], "nice": false, "zero": false}},
           "y2": {"field": "up"}}},
        {"mark": {"type": "line", "color": "#ed7d31", "strokeWidth": 3.5, "clip": true},
         "encoding": {"x": {"field": "m", "type": "quantitative", "axis": null}, "y": {"field": "up", "type": "quantitative"}}},
        {"mark": {"type": "line", "color": "#ed7d31", "strokeWidth": 3.5, "clip": true},
         "encoding": {"x": {"field": "m", "type": "quantitative", "axis": null}, "y": {"field": "lo", "type": "quantitative"}}},
        {"mark": {"type": "line", "color": "#767676", "strokeWidth": 4, "clip": true},
         "encoding": {"x": {"field": "m", "type": "quantitative", "axis": null}, "y": {"field": "mx", "type": "quantitative"}}},
        {"mark": {"type": "line", "color": "#767676", "strokeWidth": 4, "clip": true},
         "encoding": {"x": {"field": "m", "type": "quantitative", "axis": null}, "y": {"field": "mn", "type": "quantitative"}}},
        {"mark": {"type": "line", "color": "#ed7d31", "strokeWidth": 8, "clip": true},
         "encoding": {
           "x": {"field": "m", "type": "quantitative",
                 "axis": {"orient": "bottom", "values": [420, 480, 540, 600, 660, 720, 780, 840, 900, 960], "labelExpr": "floor(datum.value / 60) + ':00'", "grid": true, "gridColor": "#bfbfbf", "gridWidth": 2.5, "domainColor": "#a6a6a6", "domainWidth": 3, "labelPadding": 35, "labelFlush": false, "labelOverlap": false, "title": null}},
           "y": {"field": "av", "type": "quantitative", "scale": {"domain": [0, 12], "nice": false, "zero": false},
                 "axis": {"values": [0, 2, 4, 6, 8, 10, 12], "format": "d", "grid": true, "gridColor": "#d9d9d9", "gridWidth": 3, "domainColor": "#000000", "domainWidth": 3.5, "labelPadding": 36, "title": "Heating rate [kW]", "titlePadding": 16}}}},
        {"data": {"values": [
           {"m": 815, "v": 10.6, "label": "max"},
           {"m": 815, "v": 9.72, "label": "average ± SD"},
           {"m": 815, "v": 8.8, "label": "min"}]},
         "mark": {"type": "text", "align": "left", "baseline": "middle", "font": "Lato", "fontSize": 45, "color": "#000000"},
         "encoding": {"x": {"field": "m", "type": "quantitative", "axis": null}, "y": {"field": "v", "type": "quantitative"}, "text": {"field": "label"}}},
        {"data": {"values": [
           {"m0": 808, "v0": 10.6, "m1": 646, "v1": 2.4},
           {"m0": 808, "v0": 9.72, "m1": 698, "v1": 0.99},
           {"m0": 808, "v0": 8.8, "m1": 757, "v1": 0.08}]},
         "mark": {"type": "rule", "color": "#000000", "strokeWidth": 2.5},
         "encoding": {"x": {"field": "m0", "type": "quantitative", "axis": null}, "y": {"field": "v0", "type": "quantitative"}, "x2": {"field": "m1"}, "y2": {"field": "v1"}}},
        {"data": {"values": [{"m": 646, "v": 2.4}]},
         "mark": {"type": "point", "shape": "M0,0L-0.45,1.6L0.45,1.6Z", "filled": true, "color": "#000000", "opacity": 1, "size": 1400, "angle": 233.1},
         "encoding": {"x": {"field": "m", "type": "quantitative", "axis": null}, "y": {"field": "v", "type": "quantitative"}}},
        {"data": {"values": [{"m": 698, "v": 0.99}]},
         "mark": {"type": "point", "shape": "M0,0L-0.45,1.6L0.45,1.6Z", "filled": true, "color": "#000000", "opacity": 1, "size": 1400, "angle": 219.5},
         "encoding": {"x": {"field": "m", "type": "quantitative", "axis": null}, "y": {"field": "v", "type": "quantitative"}}},
        {"data": {"values": [{"m": 757, "v": 0.08}]},
         "mark": {"type": "point", "shape": "M0,0L-0.45,1.6L0.45,1.6Z", "filled": true, "color": "#000000", "opacity": 1, "size": 1400, "angle": 201.6},
         "encoding": {"x": {"field": "m", "type": "quantitative", "axis": null}, "y": {"field": "v", "type": "quantitative"}}}
      ]
    }
  ]
}
